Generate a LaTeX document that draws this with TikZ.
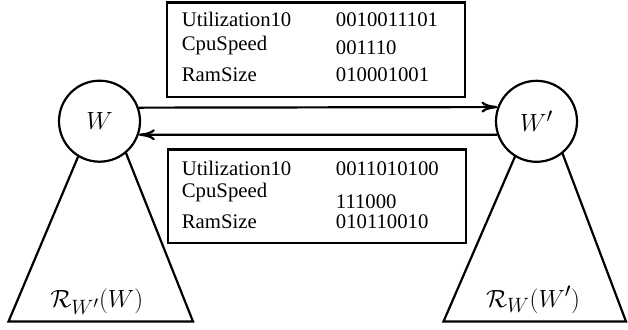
\documentclass[tikz,border=0pt]{standalone}
\usepackage{fontspec}
\setmainfont{Liberation Serif}
\usetikzlibrary{arrows.meta}
\tikzset{
  wnode/.style={circle, draw, line width=2.2pt, fill=white, minimum size=81pt, inner sep=0pt, font=\Huge},
  infobox/.style={draw, line width=2.2pt},
  txt/.style={anchor=base west, inner sep=0pt, font=\huge},
  tri/.style={draw, line width=2.2pt, line join=miter},
  arr/.style={line width=2.2pt, -{Computer Modern Rightarrow[length=16pt,width=11pt,line width=2.2pt]}},
  rlabel/.style={inner sep=0pt, font=\Huge}
}
\begin{document}
\begin{tikzpicture}[x=1pt,y=-1pt]
\useasboundingbox (0,0) rectangle (628,329);
% triangles (drawn first, circles cover their tops)
\draw[tri] (103.5,96.5) -- (8.5,321.5) -- (193,321.5) -- cycle;
\draw[tri] (541,96.5) -- (443.5,321.5) -- (626,321.5) -- cycle;
% circles
\node[wnode] (W) at (99.5,121.2) {$W$};
\node[wnode] (Wp) at (536.5,121.3) {$W'$};
% arrows
\draw[arr] (W.{19.5}) -- (Wp.{160.5});
\draw[arr] (Wp.{199.5}) -- (W.{-19.5});
% boxes
\node[infobox, minimum width=298pt, minimum height=94pt, anchor=north west] (topbox) at (166,1.5) {};
\node[infobox, minimum width=298pt, minimum height=93.4pt, anchor=north west] (botbox) at (166.5,148.3) {};
% top box text
\node[txt] (t1) at (181.7,26.7) {Utilization10};
\node[txt] (t2) at (181.7,50) {CpuSpeed};
\node[txt] (t3) at (181.7,81) {RamSize};
\node[txt] (v1) at (335.7,26.7) {0010011101};
\node[txt] (v2) at (335.7,54.3) {001110};
\node[txt] (v3) at (335.7,81) {010001001};
% bottom box text
\node[txt] (b1) at (181.7,175) {Utilization10};
\node[txt] (b2) at (181.7,197) {CpuSpeed};
\node[txt] (b3) at (181.7,228.3) {RamSize};
\node[txt] (u1) at (335.7,175) {0011010100};
\node[txt] (u2) at (335.7,208.5) {111000};
\node[txt] (u3) at (335.7,228.3) {010110010};
% triangle labels
\node[rlabel, anchor=base] (rl) at (96.7,307) {$\mathcal{R}_{W'}(W)$};
\node[rlabel, anchor=base] (rr) at (533,307) {$\mathcal{R}_{W}(W')$};
\end{tikzpicture}
\end{document}
